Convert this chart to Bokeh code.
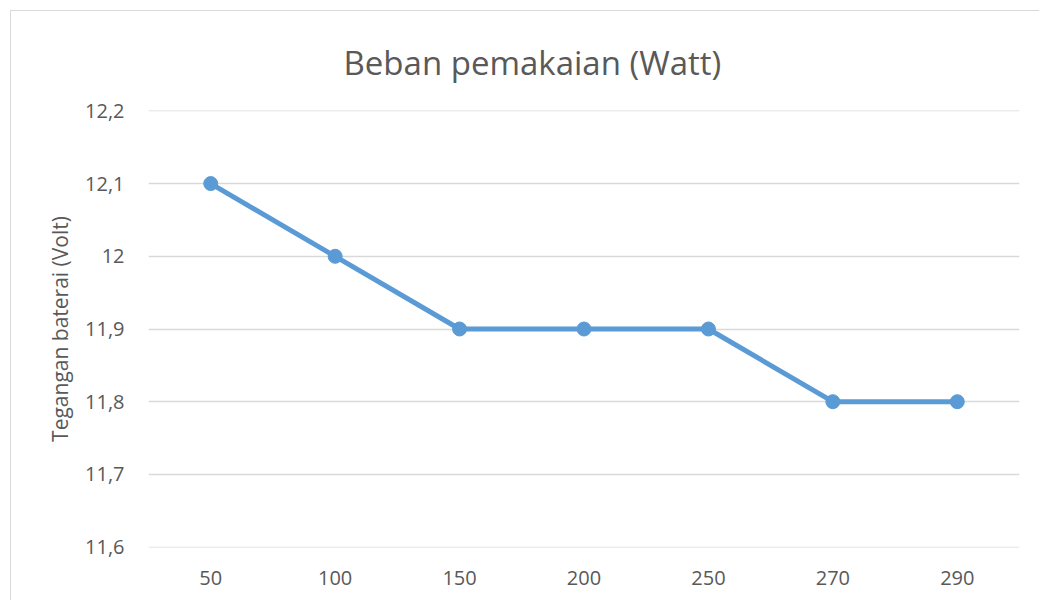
from bokeh.plotting import figure
from bokeh.models import Range1d, FactorRange, CustomJSTickFormatter, FixedTicker
from bokeh.embed import file_html
from bokeh.resources import INLINE

beban = ["50", "100", "150", "200", "250", "270", "290"]
tegangan = [12.1, 12.0, 11.9, 11.9, 11.9, 11.8, 11.8]
y_ticks = [11.6, 11.7, 11.8, 11.9, 12.0, 12.1, 12.2]
judul = "Beban pemakaian (Watt)"

FONT = "Open Sans"
GRAY = "#595959"

p = figure(width=1029, height=590, x_range=FactorRange(factors=beban, range_padding=0),
           y_range=Range1d(11.5995, 12.2005), output_backend="svg", toolbar_location=None,
           min_border_left=137, min_border_right=21, min_border_top=97, min_border_bottom=54,
           title=judul)
p.outline_line_color = None
p.styles = {"margin-left": "10px", "margin-top": "10px",
            "border-left": "1px solid #d9d9d9", "border-top": "1px solid #d9d9d9"}

p.title.align = "left"
p.title.offset = 195
p.title.text_font = FONT
p.title.text_font_size = "33px"
p.title.text_font_style = "normal"
p.title.text_color = GRAY
p.title.text_line_height = 0.6
p.title.standoff = 52

p.line(beban, tegangan, line_color="#5B9BD5", line_width=5)
p.scatter(beban, tegangan, size=14, fill_color="#5B9BD5", line_color="#5B9BD5")

p.xgrid.grid_line_color = None
p.ygrid.grid_line_color = "#d9d9d9"
p.ygrid.grid_line_width = 1.5

p.yaxis.ticker = FixedTicker(ticks=y_ticks)
p.yaxis.formatter = CustomJSTickFormatter(code="return (Math.round(tick*10)/10).toString().replace('.', ',');")
p.yaxis.axis_label = "Tegangan baterai (Volt)"
p.yaxis.axis_label_text_font = FONT
p.yaxis.axis_label_text_font_size = "21px"
p.yaxis.axis_label_text_font_style = "normal"
p.yaxis.axis_label_text_color = GRAY
p.yaxis.axis_label_standoff = 8

for ax in (p.xaxis, p.yaxis):
    ax.axis_line_color = None
    ax.major_tick_line_color = None
    ax.minor_tick_line_color = None
    ax.major_tick_out = 0
    ax.major_tick_in = 0
    ax.major_label_text_font = FONT
    ax.major_label_text_font_size = "20px"
    ax.major_label_text_color = GRAY
p.yaxis.major_label_standoff = 24
p.xaxis.major_label_standoff = 23

open("out.html", "w").write(file_html(p, INLINE))
